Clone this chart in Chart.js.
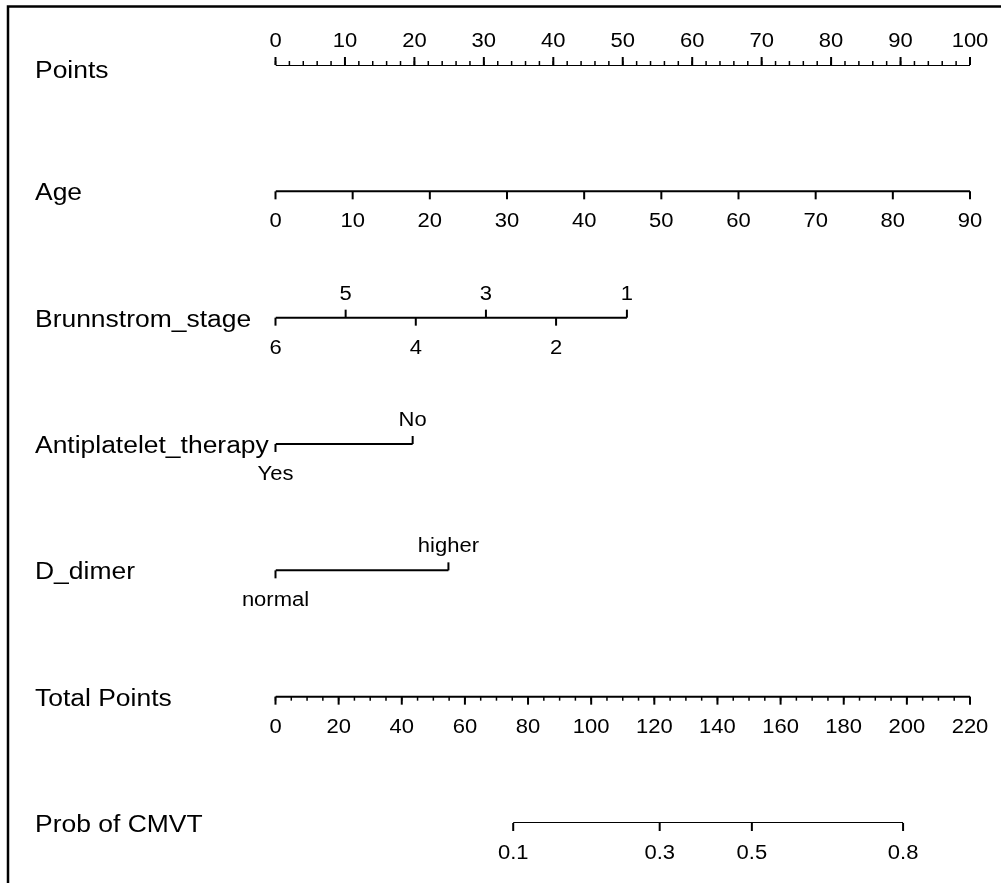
<!DOCTYPE html>
<html>
<head>
<meta charset="utf-8">
<script src="https://cdn.jsdelivr.net/npm/chart.js@4/dist/chart.umd.min.js"></script>
<style>
  html, body { margin: 0; padding: 0; background: #fff; }
  #wrap { width: 1001px; height: 883px; position: relative; }
</style>
</head>
<body>
<div id="wrap"><canvas id="nomo"></canvas></div>
<script>
// nomogram values (x is always in "Points", 0-100)
const rowNames = ['Points', 'Age', 'Brunnstrom_stage', 'Antiplatelet_therapy', 'D_dimer', 'Total Points', 'Prob of CMVT'];

const pointsTicks = [0, 10, 20, 30, 40, 50, 60, 70, 80, 90, 100];
const ageTicks = [0, 10, 20, 30, 40, 50, 60, 70, 80, 90];
const ageMax = 90;
const stageLabels = ['6', '5', '4', '3', '2', '1'];
const stagePoints = [0, 10.1, 20.2, 30.3, 40.4, 50.6];
const antiLabels = ['Yes', 'No'];
const antiPoints = [0, 19.75];
const dimerLabels = ['normal', 'higher'];
const dimerPoints = [0, 24.9];
const totalTicks = [0, 20, 40, 60, 80, 100, 120, 140, 160, 180, 200, 220];
const totalMax = 220;
const probLabels = ['0.1', '0.3', '0.5', '0.8'];
const probTotals = [75.3, 121.7, 150.9, 198.8];

const toPts = total => total * 100 / totalMax;

// each row: tick list with which side the label goes on
const rows = [
  { ticks: pointsTicks.map(v => ({ x: v, label: String(v), up: true })), minor: 2, minorMax: 100, minorUp: true },
  { ticks: ageTicks.map(v => ({ x: v * 100 / ageMax, label: String(v), up: false })) },
  { ticks: stagePoints.map((p, i) => ({ x: p, label: stageLabels[i], up: i % 2 === 1 })) },
  { ticks: antiPoints.map((p, i) => ({ x: p, label: antiLabels[i], up: i === 1 })) },
  { ticks: dimerPoints.map((p, i) => ({ x: p, label: dimerLabels[i], up: i === 1 })) },
  { ticks: totalTicks.map(v => ({ x: toPts(v), label: String(v), up: false })), minor: 5, minorMax: totalMax, minorUp: false, minorScale: toPts },
  { ticks: probTotals.map((t, i) => ({ x: toPts(t), label: probLabels[i], up: false })) },
];

const datasets = rows.map((r, i) => {
  const xs = r.ticks.map(t => t.x);
  return {
    label: rowNames[i],
    data: [{ x: Math.min(...xs), y: i }, { x: Math.max(...xs), y: i }],
    borderColor: '#000',
    borderWidth: 2,
    pointRadius: 0,
    fill: false,
  };
});

const FONT = '"Liberation Sans", Arial, sans-serif';

function stretchText(ctx, text, x, y, size, sx, align) {
  ctx.save();
  ctx.font = size + 'px ' + FONT;
  ctx.textBaseline = 'alphabetic';
  const w = ctx.measureText(text).width * sx;
  let left = x;
  if (align === 'center') left = x - w / 2;
  ctx.translate(left, y);
  ctx.scale(sx, 1);
  ctx.textAlign = 'left';
  ctx.fillText(text, 0, 0);
  ctx.restore();
}

const nomogramPlugin = {
  id: 'nomogram',
  afterDatasetsDraw(chart) {
    const { ctx, scales: { x, y } } = chart;
    ctx.save();
    ctx.strokeStyle = '#000';
    ctx.fillStyle = '#000';

    // frame (left + top only)
    ctx.lineWidth = 2.5;
    ctx.beginPath();
    ctx.moveTo(8, 883);
    ctx.lineTo(8, 6.5);
    ctx.lineTo(1001, 6.5);
    ctx.stroke();
    ctx.lineWidth = 2;

    rows.forEach((r, i) => {
      const py = y.getPixelForValue(i);
      // the Points label sits a bit lower than the rest
      stretchText(ctx, rowNames[i], 35, py + (i === 0 ? 13 : 9), 23, 1.15, 'left');

      if (r.minor) {
        ctx.lineWidth = 1.5;
        for (let v = 0; v <= r.minorMax; v += r.minor) {
          const px = x.getPixelForValue(r.minorScale ? r.minorScale(v) : v);
          ctx.beginPath();
          ctx.moveTo(px, py);
          ctx.lineTo(px, r.minorUp ? py - 4 : py + 4);
          ctx.stroke();
        }
        ctx.lineWidth = 2;
      }

      r.ticks.forEach(t => {
        const px = x.getPixelForValue(t.x);
        ctx.beginPath();
        ctx.moveTo(px, py);
        ctx.lineTo(px, t.up ? py - 8 : py + 8);
        ctx.stroke();
        stretchText(ctx, t.label, px, t.up ? py - 18 : py + 36, 20, 1.1, 'center');
      });
    });
    ctx.restore();
  },
};

new Chart(document.getElementById('nomo'), {
  type: 'line',
  data: { datasets },
  options: {
    responsive: true,
    maintainAspectRatio: false,
    animation: false,
    layout: { padding: { left: 275.5, right: 31, top: 65, bottom: 60 } },
    plugins: { legend: { display: false }, tooltip: { enabled: false } },
    scales: {
      x: { type: 'linear', min: 0, max: 100, display: false },
      y: { type: 'linear', min: 0, max: 6, reverse: true, display: false },
    },
  },
  plugins: [nomogramPlugin],
});
</script>
</body>
</html>
